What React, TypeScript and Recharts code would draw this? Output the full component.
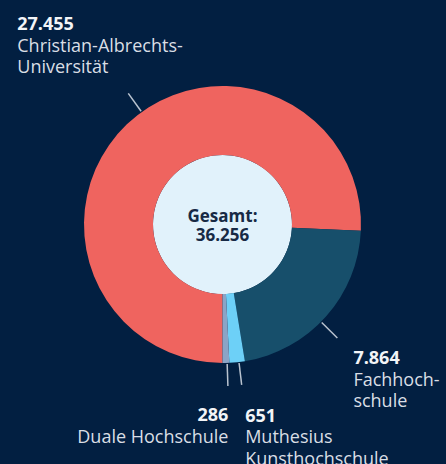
import React from "react"
import { PieChart, Pie, Cell } from "recharts"

const categories = ["Christian-Albrechts-Universität", "Fachhochschule", "Muthesius Kunsthochschule", "Duale Hochschule"]
const labelLines = [["Christian-Albrechts-", "Universität"], ["Fachhoch-", "schule"], ["Muthesius", "Kunsthochschule"], ["Duale Hochschule"]]
const students = [27455, 7864, 651, 286]
const colors = ["#ef645f", "#174f6b", "#6dd0f7", "#8ba4c6"]
const totalLabel = "Gesamt:"

const data = categories.map((name, i) => ({ name, value: students[i] }))
const total = students.reduce((a, b) => a + b, 0)

const fmt = (n: number) => String(n).replace(/\B(?=(\d{3})+(?!\d))/g, ".")

const FONT = "'Open Sans', 'Noto Sans', sans-serif"
const RAD = Math.PI / 180

// label placement per slice: angle tweak, text offset from line end, anchor
const labelLayout = [
  { shift: -8, dx: -111, dy: -63, anchor: "start" },
  { shift: -3, dx: 16, dy: 26, anchor: "start" },
  { shift: 0.75, dx: 3.5, dy: 37, anchor: "start" },
  { shift: 0.5, dx: 0.5, dy: 35.5, anchor: "end" },
]

function renderLabel(props: any) {
  const { cx, cy, midAngle, outerRadius, index, value } = props
  const l = labelLayout[index]
  const a = (midAngle + l.shift) * RAD
  const x1 = cx + (outerRadius + 1) * Math.cos(a)
  const y1 = cy - (outerRadius + 1) * Math.sin(a)
  const x2 = cx + (outerRadius + 23) * Math.cos(a)
  const y2 = cy - (outerRadius + 23) * Math.sin(a)
  const tx = x2 + l.dx
  const ty = y2 + l.dy
  return (
    <g key={`lbl-${index}`}>
      <line x1={x1} y1={y1} x2={x2} y2={y2} stroke="#b9c3cf" strokeWidth={1.5} />
      <text x={tx} y={ty} textAnchor={l.anchor} fontFamily={FONT} fontSize={18}>
        <tspan x={tx} fill="#f2f4f7" fontWeight={700}>{fmt(value)}</tspan>
        {labelLines[index].map((line, j) => (
          <tspan key={j} x={tx} dy={21.5} fill="#d9dee5">{line}</tspan>
        ))}
      </text>
    </g>
  )
}

function renderCenter(props: any) {
  const { cx, cy } = props
  return (
    <text key="center" textAnchor="middle" fontFamily={FONT} fontSize={17} fontWeight={700} fill="#172a45">
      <tspan x={cx} y={cy - 2.5}>{totalLabel}</tspan>
      <tspan x={cx} dy={19}>{fmt(total)}</tspan>
    </text>
  )
}

export default function App() {
  return (
    <div style={{ position: "absolute", left: 0, top: 0, width: 446, height: 464, background: "#021f41" }}>
      <PieChart width={446} height={464} margin={{ top: 0, right: 0, bottom: 0, left: 0 }}>
        <Pie
          data={[{ name: "Gesamt", value: total }]}
          dataKey="value"
          cx={222.5}
          cy={224.5}
          outerRadius={69.5}
          fill="#e1f2fb"
          stroke="none"
          label={renderCenter}
          labelLine={false}
          isAnimationActive={false}
        />
        <Pie
          data={data}
          dataKey="value"
          cx={222.5}
          cy={224.5}
          innerRadius={69.5}
          outerRadius={138.5}
          startAngle={270}
          endAngle={-90}
          stroke="none"
          label={renderLabel}
          labelLine={false}
          isAnimationActive={false}
        >
          {data.map((d, i) => (
            <Cell key={d.name} fill={colors[i]} />
          ))}
        </Pie>
      </PieChart>
    </div>
  )
}
